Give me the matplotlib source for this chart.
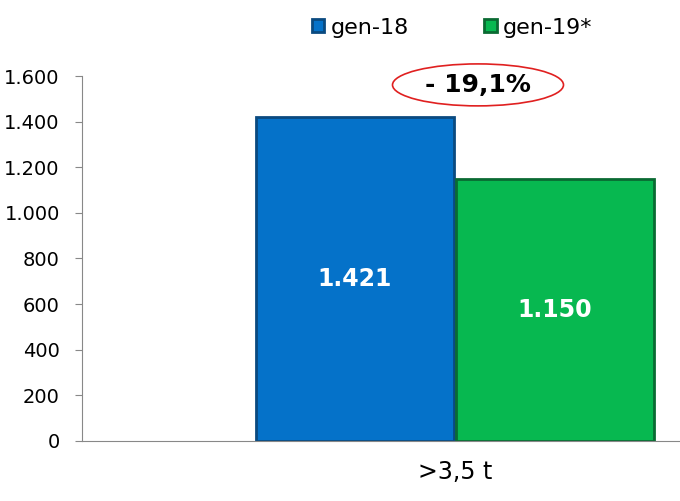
import matplotlib.pyplot as plt
from matplotlib.patches import Ellipse

# data
category = ">3,5 t"
series = ["gen-18", "gen-19*"]
values = [1421, 1150]
value_labels = ["1.421", "1.150"]
change_label = "- 19,1%"
yticks = [0, 200, 400, 600, 800, 1000, 1200, 1400, 1600]
ytick_labels = ["0", "200", "400", "600", "800", "1.000", "1.200", "1.400", "1.600"]

colors = ["#0572C9", "#07B850"]
edges = ["#0A4A80", "#0A6A32"]

fig = plt.figure(figsize=(6.8, 5.01), dpi=100)
ax = fig.add_axes([0.1206, 0.1198, 0.8794, 0.7285])

offsets = [-0.5, 0.5]
for off, v, lab, c, e, name in zip(offsets, values, value_labels, colors, edges, series):
    ax.bar(off, v, width=0.99, color=c, edgecolor=e, linewidth=2, label=name)
    ax.text(off, v * 0.5, lab, ha="center", va="center", color="white",
            fontsize=17, fontweight="bold")

ax.set_ylim(0, 1600)
ax.set_xlim(-1.865, 1.125)
ax.set_yticks(yticks)
ax.set_yticklabels(ytick_labels, fontsize=14)
ax.set_xticks([0])
ax.set_xticklabels([category], fontsize=17)
ax.tick_params(axis="x", length=0, pad=14)
ax.tick_params(axis="y", length=5, color="#888888", pad=11)

for s in ["top", "right"]:
    ax.spines[s].set_visible(False)
for s in ["left", "bottom"]:
    ax.spines[s].set_color("#888888")

# change annotation
ax.add_patch(Ellipse((0.115, 1561), 0.855, 184, fill=False, edgecolor="#E02020",
                     linewidth=1.2, clip_on=False))
ax.text(0.115, 1561, change_label, ha="center", va="center", fontsize=18,
        fontweight="bold", clip_on=False)

fig.legend(loc="center", bbox_to_anchor=(0.665, 0.945), ncol=2, frameon=False,
           fontsize=16, handlelength=0.55, handleheight=0.55, handletextpad=0.3,
           columnspacing=3.4)

fig.savefig("out.png", dpi=100)
